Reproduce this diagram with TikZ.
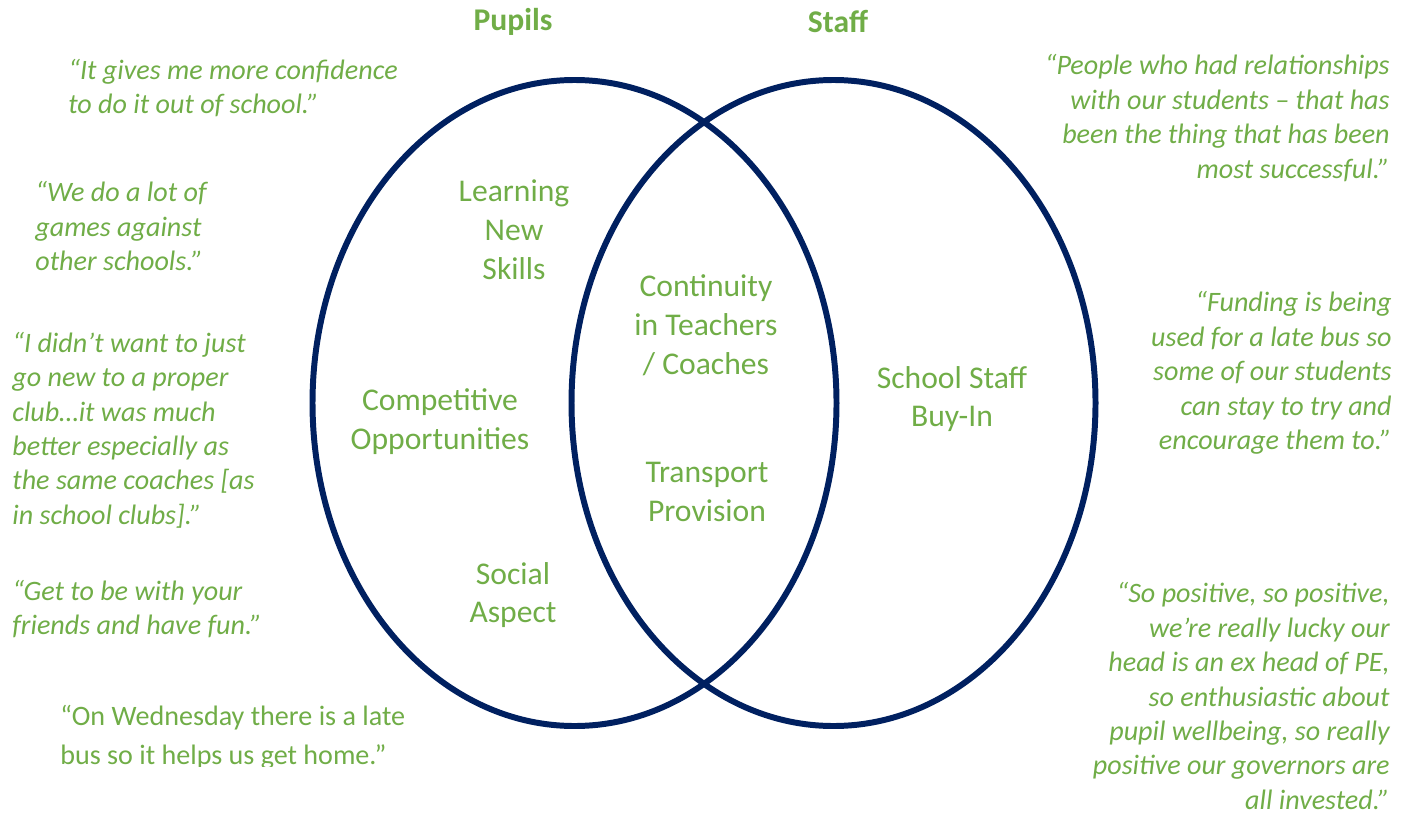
\documentclass[tikz,border=0pt]{standalone}
\usepackage{fontspec}
\setmainfont{Carlito}
\usepackage{xcolor}
\usepackage{tikz}
\definecolor{Leaf}{HTML}{70AD47}
\definecolor{Navy}{HTML}{002060}
\tikzstyle{set}=[draw=Navy,line width=3.4pt]
\tikzstyle{head}=[text=Leaf,inner sep=0pt,font=\fontsize{18}{22}\selectfont\bfseries]
\tikzstyle{topic}=[text=Leaf,inner sep=0pt,align=center,font=\fontsize{18}{22.1}\selectfont]
\tikzstyle{quote}=[text=Leaf,inner sep=0pt,font=\fontsize{16}{19.6}\selectfont\itshape]
\tikzstyle{quote-l}=[quote,anchor=west,align=left]
\tikzstyle{quote-r}=[quote,anchor=east,align=right]

\begin{document}
\begin{tikzpicture}[x=0.02cm,y=-0.02cm]
\useasboundingbox (0,0) rectangle (1408,814);

% Sets
\draw[set] (574.5,403) ellipse [x radius=262, y radius=323];
\draw[set] (833.5,403) ellipse [x radius=262, y radius=323];

% Headings
\node[head] (pupils) at (513,22) {Pupils};
\node[head] (staff)  at (838,22) {Staff};

% Topics
\node[topic] (skills)      at (514,230) {Learning\\New\\Skills};
\node[topic] (competitive) at (440,422) {Competitive\\Opportunities};
\node[topic] (social)      at (513,595) {Social\\Aspect};
\node[topic] (continuity)  at (706,325) {Continuity\\in Teachers\\/ Coaches};
\node[topic] (transport)   at (707,492) {Transport\\Provision};
\node[topic] (buyin)       at (952,399) {School Staff\\Buy-In};

% Pupil quotes
\node[quote-l] (confidence) at (68,88)   {“It gives me more confidence\\to do it out of school.”};
\node[quote-l] (games)      at (35,226)  {“We do a lot of\\games against\\other schools.”};
\node[quote-l] (club)       at (12,430)  {“I didn’t want to just\\go new to a proper\\club…it was much\\better especially as\\the same coaches [as\\in school clubs].”};
\node[quote-l] (friends)    at (12,609)  {“Get to be with your\\friends and have fun.”};
\begin{scope}
\clip (0,690) rectangle (500,766);
\node[quote-l,font=\fontsize{16}{22.1}\selectfont] (latebus) at (60,737) {“On Wednesday there is a late\\bus so it helps us get home.”};
\end{scope}

% Staff quotes
\node[quote-r] (relations) at (1390,118) {“People who had relationships\\with our students – that has\\been the thing that has been\\most successful.”};
\node[quote-r] (funding)   at (1392,373) {“Funding is being\\used for a late bus so\\some of our students\\can stay to try and\\encourage them to.”};
\node[quote-r] (positive)  at (1390,696) {“So positive, so positive,\\we’re really lucky our\\head is an ex head of PE,\\so enthusiastic about\\pupil wellbeing, so really\\positive our governors are\\all invested.”};

\end{tikzpicture}
\end{document}
